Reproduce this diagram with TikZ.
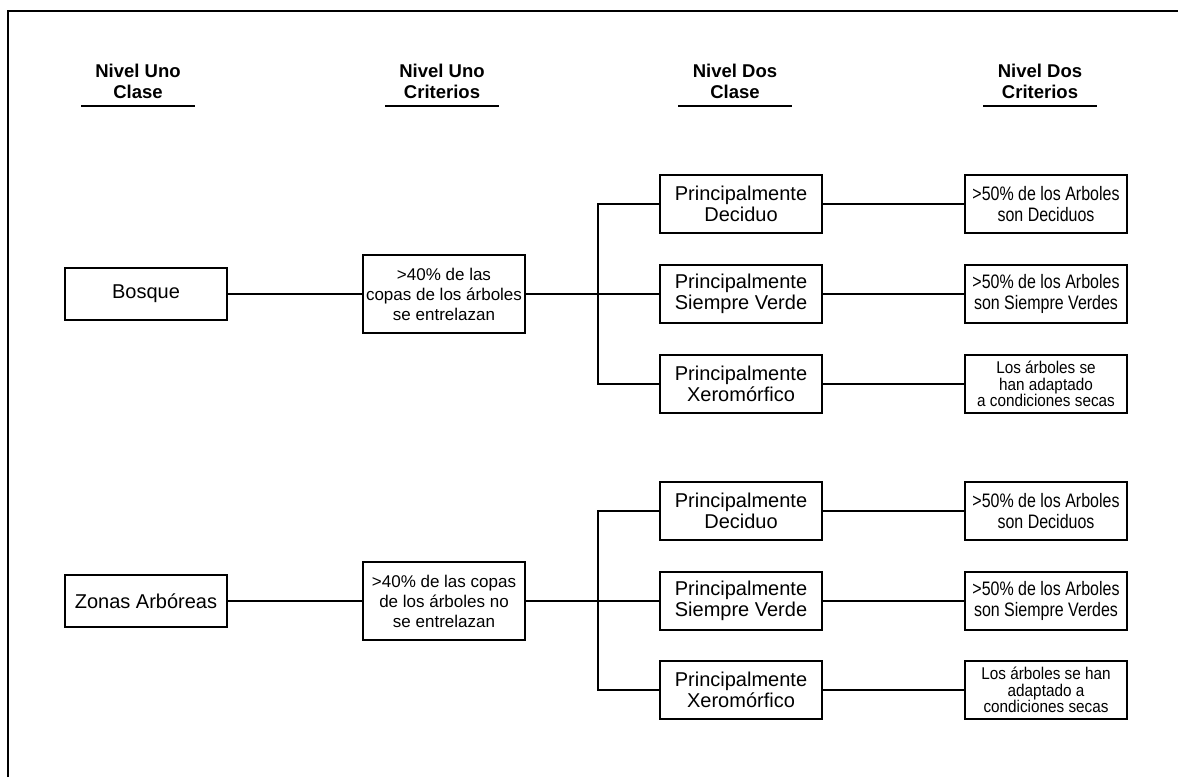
\documentclass[tikz,border=0pt]{standalone}
\usepackage{fontspec}
\setmainfont{Liberation Sans}
\newfontfamily\narrowsans{Liberation Sans}[FakeStretch=0.82]
\newfontfamily\tightsans{Liberation Sans}[FakeStretch=0.9]
\begin{document}
\begin{tikzpicture}[x=1pt,y=-1pt,
  frame/.style={line width=2.2pt},
  heading/.style={inner sep=0pt, align=center, anchor=south,
    font=\bfseries\fontsize{18.5}{21.5}\selectfont},
  rule/.style={line width=2.6pt},
  box/.style={draw, line width=2.6pt, inner sep=0pt, align=center,
    minimum width=162pt, minimum height=58pt,
    font=\fontsize{20}{21}\selectfont},
  classbox/.style={box, minimum height=52pt},
  critbox/.style={box, minimum height=78pt, font=\fontsize{17}{20}\selectfont},
  subbox/.style={box, font=\narrowsans\fontsize{19.5}{21}\selectfont},
  subbox3/.style={box, font=\tightsans\fontsize{17}{16.5}\selectfont},
  link/.style={line width=2.3pt}]

\useasboundingbox (0,0) rectangle (1178,777);

% open frame
\coordinate (ftl) at (8,11);
\coordinate (ftr) at (1178,11);
\coordinate (fbl) at (8,777);
\draw[frame] (fbl) -- (ftl) -- (ftr);

% column headings
\node[heading] (h1) at (138,99) {Nivel Uno\\Clase};
\node[heading] (h2) at (442,99) {Nivel Uno\\Criterios};
\node[heading] (h3) at (735,99) {Nivel Dos\\Clase};
\node[heading] (h4) at (1040,99) {Nivel Dos\\Criterios};
\foreach \h in {h1,h2,h3,h4}
  \draw[rule] (\h.south) ++(-57,7) -- ++(114,0);

% ---- Bosque ----
\node[classbox] (bosque) at (146,294) {Bosque};
\node[critbox] (cb) at (444,294) {>40\% de las\\copas de los árboles\\se entrelazan};
\node[box] (bdec) at (741,204) {Principalmente\\Deciduo};
\node[box] (bsv)  at (741,294) {Principalmente\\Siempre Verde};
\node[box] (bxer) at (741,384) {Principalmente\\Xeromórfico};
\node[subbox] (cbdec) at (1046,204) {>50\% de los Arboles\\son Deciduos};
\node[subbox] (cbsv)  at (1046,294) {>50\% de los Arboles\\son Siempre Verdes};
\node[subbox3] (cbxer) at (1046,384) {Los árboles se\\han adaptado\\a condiciones secas};

\coordinate (bt1) at (598,204);
\coordinate (bt2) at (598,294);
\coordinate (bt3) at (598,384);
\draw[link] (bosque) -- (cb);
\draw[link] (cb.east) -- (bt2);
\draw[link] (bdec.west) -- (bt1) -- (bt3) -- (bxer.west);
\draw[link] (bt2) -- (bsv.west);
\draw[link] (bdec) -- (cbdec);
\draw[link] (bsv) -- (cbsv);
\draw[link] (bxer) -- (cbxer);

% ---- Zonas Arbóreas ----
\node[classbox] (zonas) at (146,601) {Zonas Arbóreas};
\node[critbox] (cz) at (444,601) {>40\% de las copas\\de los árboles no\\se entrelazan};
\node[box] (zdec) at (741,511) {Principalmente\\Deciduo};
\node[box] (zsv)  at (741,601) {Principalmente\\Siempre Verde};
\node[box] (zxer) at (741,690) {Principalmente\\Xeromórfico};
\node[subbox] (czdec) at (1046,511) {>50\% de los Arboles\\son Deciduos};
\node[subbox] (czsv)  at (1046,601) {>50\% de los Arboles\\son Siempre Verdes};
\node[subbox3] (czxer) at (1046,690) {Los árboles se han\\adaptado a\\condiciones secas};

\coordinate (zt1) at (598,511);
\coordinate (zt2) at (598,601);
\coordinate (zt3) at (598,690);
\draw[link] (zonas) -- (cz);
\draw[link] (cz.east) -- (zt2);
\draw[link] (zdec.west) -- (zt1) -- (zt3) -- (zxer.west);
\draw[link] (zt2) -- (zsv.west);
\draw[link] (zdec) -- (czdec);
\draw[link] (zsv) -- (czsv);
\draw[link] (zxer) -- (czxer);
\end{tikzpicture}
\end{document}
